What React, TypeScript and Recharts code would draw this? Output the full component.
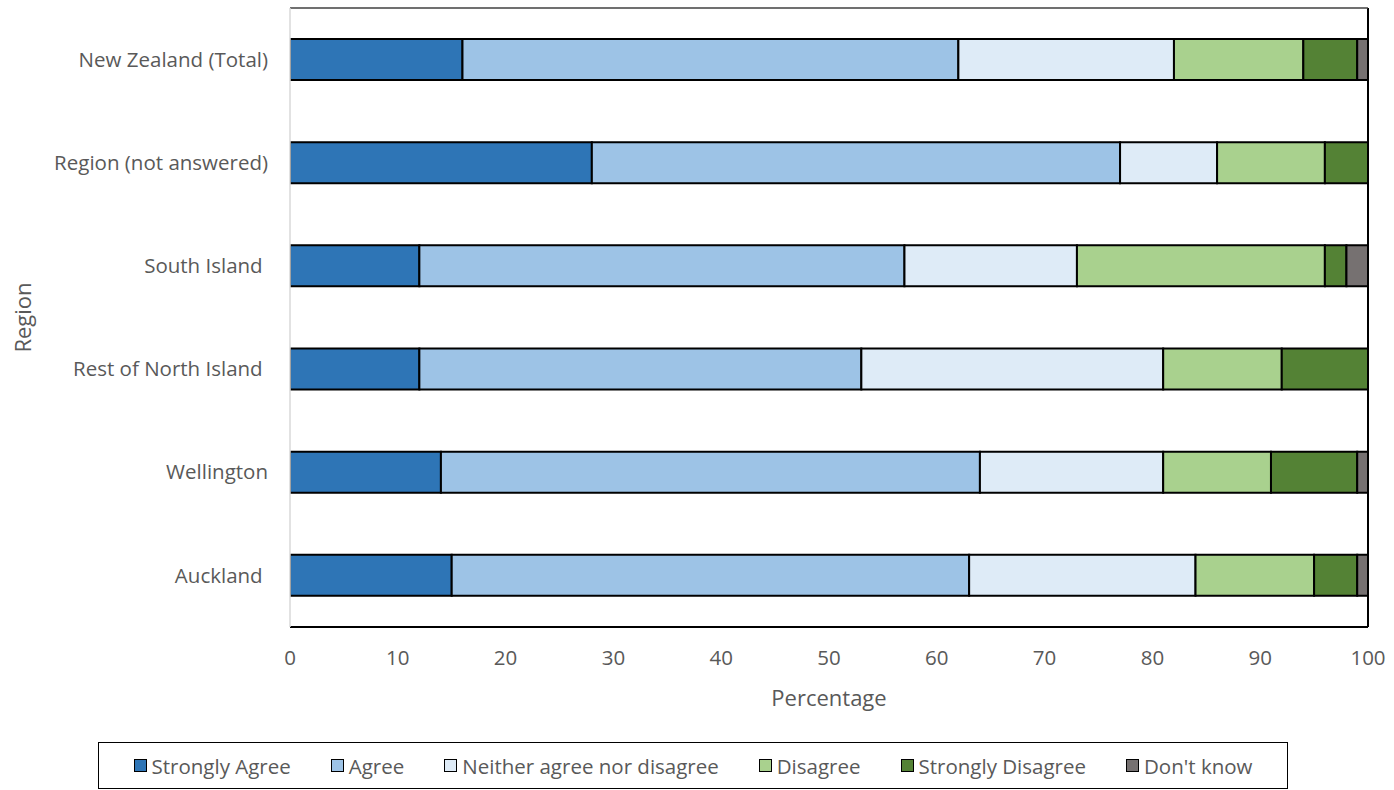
import { BarChart, Bar, XAxis, YAxis, ReferenceLine } from 'recharts'

// Survey responses by region, percent of respondents
const regions = [
  'New Zealand (Total)',
  'Region (not answered)',
  'South Island ',
  'Rest of North Island ',
  'Wellington',
  'Auckland ',
]
const stronglyAgree = [16, 28, 12, 12, 14, 15]
const agree = [46, 49, 45, 41, 50, 48]
const neither = [20, 9, 16, 28, 17, 21]
const disagree = [12, 10, 23, 11, 10, 11]
const stronglyDisagree = [5, 4, 2, 8, 8, 4]
const dontKnow = [1, 0, 2, 0, 1, 1]

const xTicks = [0, 10, 20, 30, 40, 50, 60, 70, 80, 90, 100]

const series = [
  { key: 'sa', name: 'Strongly Agree', color: '#2e75b6', values: stronglyAgree },
  { key: 'a', name: 'Agree', color: '#9dc3e6', values: agree },
  { key: 'n', name: 'Neither agree nor disagree', color: '#deebf7', values: neither },
  { key: 'd', name: 'Disagree', color: '#a9d18e', values: disagree },
  { key: 'sd', name: 'Strongly Disagree', color: '#548235', values: stronglyDisagree },
  { key: 'dk', name: "Don't know", color: '#767171', values: dontKnow },
]

const data = regions.map((region, i) => {
  const row: Record<string, string | number> = { region }
  for (const s of series) row[s.key] = s.values[i]
  return row
})

const FONT = '"Open Sans", sans-serif'
const TEXT = '#595959'

const RegionTick = ({ x, y, payload }: any) => (
  <text
    x={x}
    y={y}
    dy="0.35em"
    textAnchor="end"
    fill={TEXT}
    fontSize={20.5}
    fontFamily={FONT}
    style={{ whiteSpace: 'pre' }}
  >
    {payload.value}
  </text>
)

const RegionLabel = ({ viewBox }: any) => {
  const cx = 22
  const cy = viewBox.y + viewBox.height / 2
  return (
    <text
      x={cx}
      y={cy}
      transform={`rotate(-90 ${cx} ${cy})`}
      textAnchor="middle"
      dominantBaseline="central"
      fill={TEXT}
      fontSize={22}
      fontFamily={FONT}
    >
      Region
    </text>
  )
}

function LegendBox() {
  return (
    <div
      style={{
        position: 'absolute',
        left: 98,
        top: 742,
        width: 1190,
        height: 47,
        border: '1px solid #000',
        boxSizing: 'border-box',
        display: 'flex',
        alignItems: 'center',
        justifyContent: 'center',
        gap: 40,
        fontFamily: FONT,
        fontSize: 20.5,
        color: TEXT,
        background: '#fff',
        whiteSpace: 'nowrap',
      }}
    >
      {series.map(s => (
        <div key={s.key} style={{ display: 'flex', alignItems: 'center', gap: 5 }}>
          <span
            style={{
              width: 13,
              height: 13,
              background: s.color,
              border: '1.5px solid #000',
              boxSizing: 'border-box',
              display: 'inline-block',
            }}
          />
          <span>{s.name}</span>
        </div>
      ))}
    </div>
  )
}

export default function App() {
  return (
    <div style={{ position: 'absolute', left: 0, top: 0, width: 1394, height: 790, background: '#fff' }}>
      <BarChart
        width={1394}
        height={790}
        data={data}
        layout="vertical"
        margin={{ top: 7, right: 26, bottom: 0, left: 0 }}
        barCategoryGap={0}
      >
        <XAxis
          type="number"
          domain={[0, 100]}
          ticks={xTicks}
          allowDataOverflow
          height={163}
          tickLine={false}
          tickSize={0}
          tickMargin={23}
          axisLine={{ stroke: '#000', strokeWidth: 2 }}
          tick={{ fontSize: 20.5, fill: TEXT, fontFamily: FONT }}
          label={{
            value: 'Percentage',
            position: 'insideTop',
            offset: 63,
            fontSize: 22,
            fill: TEXT,
            fontFamily: FONT,
          }}
        />
        <XAxis
          xAxisId="top"
          orientation="top"
          type="number"
          domain={[0, 100]}
          height={1}
          tick={false}
          tickLine={false}
          axisLine={{ stroke: '#404040', strokeWidth: 1.5 }}
        />
        <YAxis
          type="category"
          dataKey="region"
          width={290}
          tickLine={false}
          tickSize={0}
          tickMargin={22}
          axisLine={{ stroke: '#d9d9d9', strokeWidth: 1.5 }}
          tick={<RegionTick />}
          label={<RegionLabel />}
        />
        <ReferenceLine x={100} stroke="#000" strokeWidth={2} />
        {series.map(s => (
          <Bar
            key={s.key}
            dataKey={s.key}
            name={s.name}
            stackId="all"
            fill={s.color}
            stroke="#000"
            strokeWidth={2}
            barSize={41}
            isAnimationActive={false}
          />
        ))}
      </BarChart>
      <LegendBox />
    </div>
  )
}
